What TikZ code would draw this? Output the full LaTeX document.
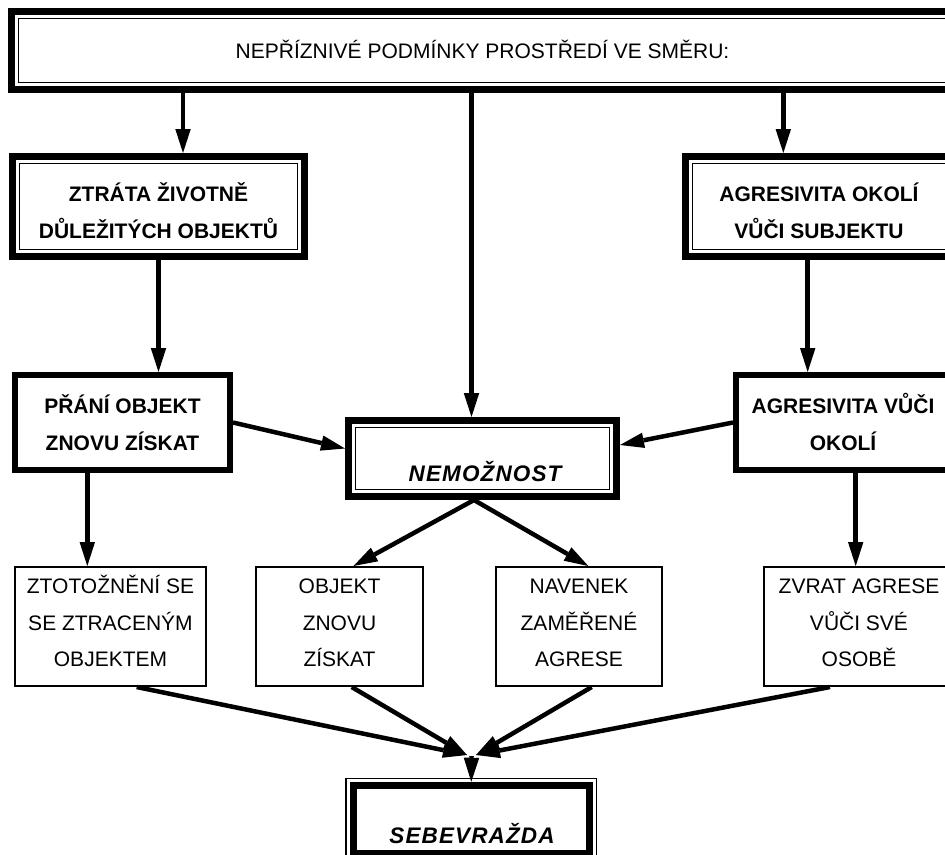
\documentclass[tikz,border=0pt]{standalone}
\usepackage{fontspec}
\setmainfont{Liberation Sans}
\usetikzlibrary{arrows.meta,calc}
\newcommand{\ml}[1]{\begin{tabular}[t]{@{}c@{}}#1\end{tabular}}
\begin{document}
\begin{tikzpicture}[x=1pt,y=-1pt,
  dbox/.style={draw, line width=7pt, inner sep=0pt, rectangle},
  sbox/.style={draw, line width=6pt, inner sep=0pt, rectangle},
  tbox/.style={draw, line width=2pt, inner sep=0pt, rectangle},
  innerline/.style={line width=1.5pt},
  arr/.style={line width=4.5pt, -{Triangle[length=24pt,width=15.5pt,line width=0pt]}},
  txt/.style={inner sep=0pt, anchor=base, font=\fontsize{21}{36.7}\selectfont},
  btxt/.style={inner sep=0pt, anchor=base, font=\fontsize{21}{36.7}\selectfont\bfseries},
  itxt/.style={inner sep=0pt, anchor=base, font=\fontsize{22.5}{36.7}\selectfont\bfseries\itshape\addfontfeature{LetterSpace=5}}]
\useasboundingbox (0,0) rectangle (945,854);
\clip (0,0) rectangle (945,854);
\fill[white] (0,0) rectangle (945,854);

% boxes
\node[dbox, minimum width=942pt, minimum height=78pt] (top) at (482.5,50.5) {};
\node[dbox, minimum width=292pt, minimum height=100pt] (ztrata) at (158.5,206.5) {};
\node[dbox, minimum width=267pt, minimum height=100pt] (aok) at (819,206.5) {};
\node[dbox, minimum width=268pt, minimum height=76pt] (nem) at (482.5,458.5) {};
\node[sbox, minimum width=215pt, minimum height=95pt] (prani) at (122.5,422.5) {};
\node[sbox, minimum width=214pt, minimum height=95pt] (avo) at (843,422.5) {};
\node[tbox, minimum width=191pt, minimum height=119pt] (b1) at (110.5,626.5) {};
\node[tbox, minimum width=167pt, minimum height=119pt] (b2) at (339.5,626.5) {};
\node[tbox, minimum width=166pt, minimum height=119pt] (b3) at (579,626.5) {};
\node[tbox, minimum width=190pt, minimum height=119pt] (b4) at (859,626.5) {};
\node[draw, line width=1.5pt, inner sep=0pt, minimum width=250.1pt, minimum height=82pt] (sebe) at (471.25,819.5) {};

\foreach \n in {top,ztrata,aok,nem}
  \draw[innerline] ($(\n.north west)+(10.5,10.5)$) rectangle ($(\n.south east)+(-10.5,-10.5)$);
\draw[line width=7pt] ($(sebe.north west)+(7.75,7.75)$) rectangle ($(sebe.south east)+(-7.75,-7.75)$);

% connectors
\coordinate (a1) at ([xshift=24.5pt]ztrata.north);
\draw[arr] (a1 |- top.south) -- (a1);
\draw[arr] (ztrata.south) -- (ztrata.south |- prani.north);
\coordinate (a3) at ([xshift=-11pt]nem.north);
\draw[arr] (a3 |- top.south) -- (a3);
\coordinate (a4) at ([xshift=-35.7pt]aok.north);
\draw[arr] (a4 |- top.south) -- (a4);
\coordinate (a5) at ([xshift=-11.3pt]aok.south);
\draw[arr] (a5) -- (a5 |- avo.north);
\draw[arr] (prani.east) -- ([yshift=10pt]nem.west);
\draw[arr] (avo.west) -- ([yshift=13.5pt]nem.east);
\coordinate (a8) at ([xshift=-35.2pt]prani.south);
\draw[arr] (a8) -- (a8 |- b1.north);
\draw[arr] ([xshift=-8.5pt]nem.south) -- ([xshift=14pt]b2.north);
\draw[arr] ([xshift=-8.5pt]nem.south) -- ([xshift=9.3pt]b3.north);
\coordinate (a11) at ([xshift=12.7pt]avo.south);
\draw[arr] (a11) -- (a11 |- b4.north);

\coordinate (cl) at (467,755);
\coordinate (cr) at (476,755);
\coordinate (cm) at (471.5,756);
\draw[arr] ([xshift=26.2pt]b1.south) -- (cl);
\draw[arr] ([xshift=12.2pt]b2.south) -- (cl);
\draw[arr] ([xshift=12.7pt]b3.south) -- (cr);
\draw[arr] ([xshift=-29pt]b4.south) -- (cr);
\draw[arr] (cm) -- ([yshift=-4pt]sebe.north);

% texts
\node[txt] (t0) at (482.5,58.3) {NEPŘÍZNIVÉ PODMÍNKY PROSTŘEDÍ VE SMĚRU:};
\node[btxt] (t1) at (158.5,201.7) {\ml{ZTRÁTA ŽIVOTNĚ\\DŮLEŽITÝCH OBJEKTŮ}};
\node[btxt] (t2) at (819,201.7) {\ml{AGRESIVITA OKOLÍ\\VŮČI SUBJEKTU}};
\node[btxt] (t3) at (122.5,413.3) {\ml{PŘÁNÍ OBJEKT\\ZNOVU ZÍSKAT}};
\node[btxt] (t4) at (843,413.3) {\ml{AGRESIVITA VŮČI\\OKOLÍ}};
\node[itxt] (t5) at (485,481.7) {NEMOŽNOST};
\node[txt] (t6) at (110.5,593.3) {\ml{ZTOTOŽNĚNÍ SE\\SE ZTRACENÝM\\OBJEKTEM}};
\node[txt] (t7) at (339.5,593.3) {\ml{OBJEKT\\ZNOVU\\ZÍSKAT}};
\node[txt] (t8) at (579,593.3) {\ml{NAVENEK\\ZAMĚŘENÉ\\AGRESE}};
\node[txt] (t9) at (859,593.3) {\ml{ZVRAT AGRESE\\VŮČI SVÉ\\OSOBĚ}};
\node[itxt] (t10) at (472,843.3) {SEBEVRAŽDA};
\end{tikzpicture}
\end{document}
